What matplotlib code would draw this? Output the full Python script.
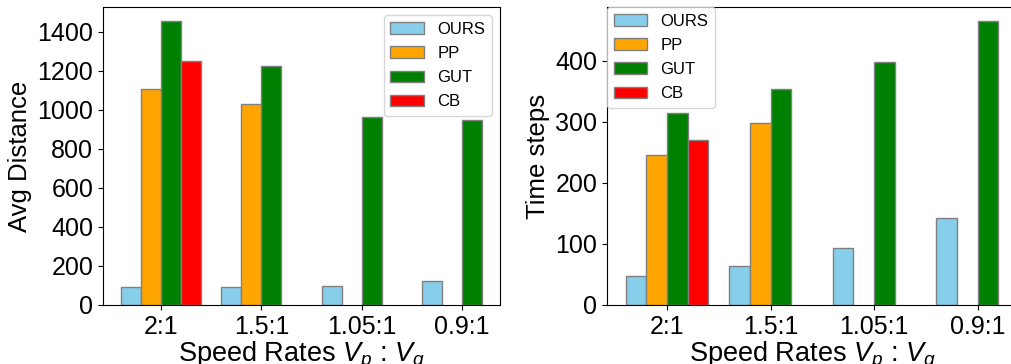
import matplotlib
matplotlib.use("Agg")
import matplotlib.pyplot as plt
import numpy as np

plt.rcParams.update({
    "font.family": ["Liberation Sans", "DejaVu Sans"],
    "mathtext.fontset": "custom",
    "mathtext.rm": "Liberation Sans",
    "mathtext.it": "Liberation Sans:italic",
    "font.size": 18,
})

# --- Data ---
ratios = ["2:1", "1.5:1", "1.05:1", "0.9:1"]
methods = ["OURS", "PP", "GUT", "CB"]
colors = ["skyblue", "orange", "green", "red"]

nan = np.nan
dist_ours = [92, 92, 96, 125]
dist_pp = [1109, 1030, nan, nan]
dist_gut = [1455, 1225, 963, 946]
dist_cb = [1249, nan, nan, nan]
dist_ticks = [0, 200, 400, 600, 800, 1000, 1200, 1400]

steps_ours = [48, 64, 94, 143]
steps_pp = [245, 298, nan, nan]
steps_gut = [315, 354, 398, 465]
steps_cb = [270, nan, nan, nan]
steps_ticks = [0, 100, 200, 300, 400]


def grouped_bars(ax, series, ylabel, yticks, legend_kw):
    x = np.arange(len(ratios))
    w = 0.2
    for i, (name, vals) in enumerate(zip(methods, series)):
        ax.bar(x + (i - 1.5) * w, vals, width=w, color=colors[i],
               edgecolor="gray", linewidth=1.0, label=name)
    ax.set_xticks(x)
    ax.set_xticklabels(ratios)
    ax.set_yticks(yticks)
    ax.set_xlabel(r"Speed Rates $V_p$ : $V_g$", fontsize=19.5, labelpad=1)
    ax.set_ylabel(ylabel, fontsize=18.5)
    ax.tick_params(axis="both", labelsize=18)
    ax.legend(fontsize=12, labelspacing=0.55, **legend_kw)


fig = plt.figure(figsize=(10.12, 3.64), dpi=100)
W, H = 1012, 364
ax1 = fig.add_axes([103 / W, 59 / H, 397 / W, 298 / H])
ax2 = fig.add_axes([607 / W, 59 / H, 410 / W, 298 / H])

grouped_bars(ax1, [dist_ours, dist_pp, dist_gut, dist_cb], "Avg Distance",
             dist_ticks, dict(loc="upper right"))
grouped_bars(ax2, [steps_ours, steps_pp, steps_gut, steps_cb], "Time steps",
             steps_ticks, dict(loc="upper left", borderaxespad=0))

fig.savefig("out.png", dpi=100)
